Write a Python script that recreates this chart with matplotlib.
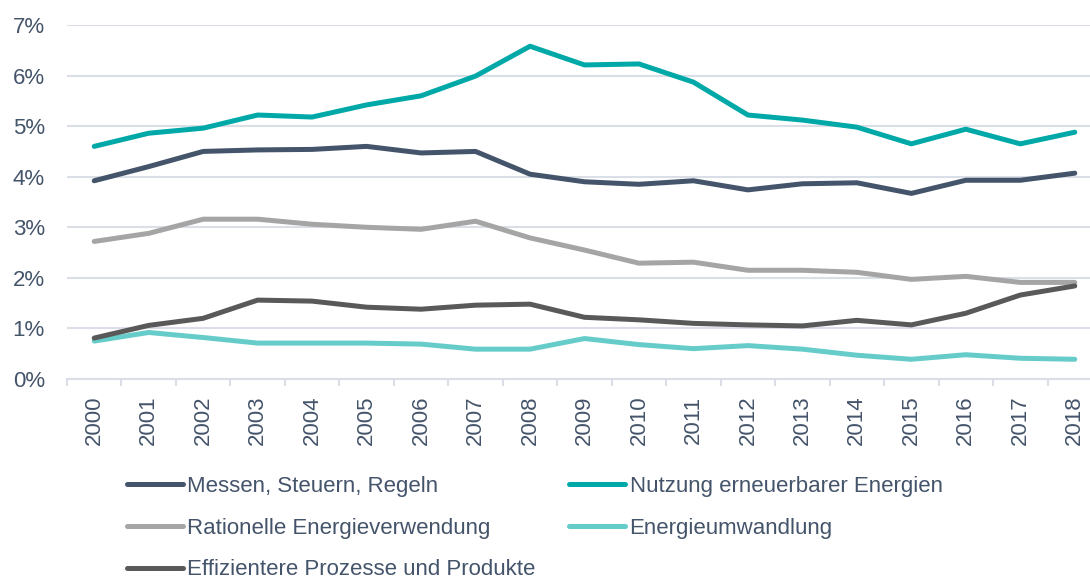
import matplotlib
matplotlib.use("Agg")
import matplotlib.pyplot as plt
from matplotlib.ticker import FixedLocator, PercentFormatter

years = [str(y) for y in range(2000, 2019)]

messen = [3.92, 4.20, 4.50, 4.53, 4.54, 4.60, 4.47, 4.50, 4.05, 3.90, 3.85, 3.92,
          3.74, 3.86, 3.88, 3.67, 3.93, 3.93, 4.07]
nutzung = [4.60, 4.86, 4.96, 5.22, 5.18, 5.42, 5.60, 5.99, 6.58, 6.21, 6.23, 5.87,
           5.22, 5.12, 4.98, 4.65, 4.94, 4.65, 4.88]
rationelle = [2.72, 2.88, 3.16, 3.16, 3.06, 3.00, 2.96, 3.12, 2.79, 2.55, 2.29, 2.31,
              2.15, 2.15, 2.11, 1.97, 2.03, 1.91, 1.91]
umwandlung = [0.75, 0.92, 0.82, 0.71, 0.71, 0.71, 0.69, 0.59, 0.59, 0.80, 0.68, 0.60,
              0.66, 0.59, 0.47, 0.39, 0.48, 0.41, 0.39]
effizienz = [0.81, 1.06, 1.20, 1.56, 1.54, 1.42, 1.38, 1.46, 1.48, 1.22, 1.17, 1.10,
             1.07, 1.05, 1.16, 1.07, 1.30, 1.66, 1.84]

series = [
    ("Messen, Steuern, Regeln", messen, "#44546A"),
    ("Nutzung erneuerbarer Energien", nutzung, "#00A9A8"),
    ("Rationelle Energieverwendung", rationelle, "#A5A5A5"),
    ("Energieumwandlung", umwandlung, "#66CCCA"),
    ("Effizientere Prozesse und Produkte", effizienz, "#595959"),
]

text_color = "#44546A"
grid_color = "#D9DEE7"

plt.rcParams["font.family"] = ["Liberation Sans", "DejaVu Sans"]

fig = plt.figure(figsize=(10.90, 5.79), dpi=100)
ax = fig.add_axes([67 / 1090, 1 - 379 / 579, 1035 / 1090, 354 / 579])

x = list(range(len(years)))
lines = {}
for name, vals, color in series:
    (ln,) = ax.plot(x, vals, color=color, lw=3.6, solid_capstyle="round",
                    solid_joinstyle="round", label=name)
    lines[name] = ln

ax.set_xlim(-0.5, len(years) - 0.5)
ax.set_ylim(0, 7)
ax.yaxis.set_major_locator(FixedLocator(range(0, 8)))
ax.yaxis.set_major_formatter(PercentFormatter(decimals=0))
ax.grid(axis="y", color=grid_color, lw=1.5)
ax.set_axisbelow(True)

ax.set_xticks(x)
ax.set_xticklabels(years, rotation=90)
ax.set_xticks([i + 0.5 for i in range(-1, len(years))], minor=True)
ax.tick_params(axis="x", which="major", length=0, pad=12, labelsize=16,
               labelcolor=text_color)
ax.tick_params(axis="x", which="minor", length=5, width=1.5, color=grid_color)
ax.tick_params(axis="y", length=0, pad=16, labelsize=16, labelcolor=text_color)

for side in ("top", "right", "left"):
    ax.spines[side].set_visible(False)
ax.spines["bottom"].set_color(grid_color)
ax.spines["bottom"].set_linewidth(1.5)

order = ["Messen, Steuern, Regeln", "Rationelle Energieverwendung",
         "Effizientere Prozesse und Produkte", "Nutzung erneuerbarer Energien",
         "Energieumwandlung"]
leg = fig.legend([lines[n] for n in order], order, ncol=2, frameon=False,
                 loc="upper left", bbox_to_anchor=(127 / 1090, 1 - 476 / 579),
                 fontsize=16, handlelength=2.5, handletextpad=0.22,
                 columnspacing=1.5, labelspacing=0.93, labelcolor=text_color,
                 borderpad=0, borderaxespad=0)

fig.savefig("out.png", dpi=100, facecolor="white")
